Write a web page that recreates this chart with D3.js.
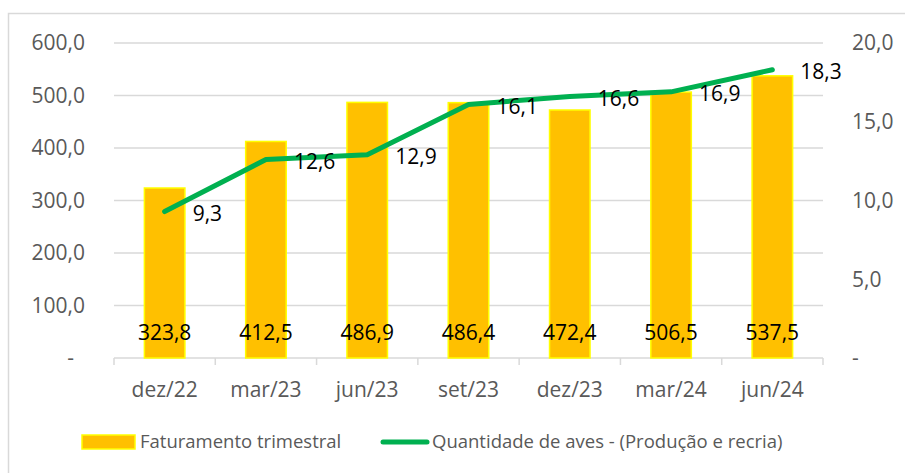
<!DOCTYPE html>
<html>
<head>
<meta charset="utf-8">
<script src="https://cdn.jsdelivr.net/npm/d3@7"></script>
<style>
  body { margin: 0; background: #fff; }
  text { font-family: "Open Sans", "Noto Sans", sans-serif; }
  .axis-label { fill: #595959; font-size: 21px; }
  .data-label { fill: #000; font-size: 21px; }
  .legend-label { fill: #595959; font-size: 18.5px; }
</style>
</head>
<body>
<svg id="chart" width="905" height="473"></svg>
<script>
var categories = ["dez/22", "mar/23", "jun/23", "set/23", "dez/23", "mar/24", "jun/24"];
var faturamento = [323.8, 412.5, 486.9, 486.4, 472.4, 506.5, 537.5];
var aves = [9.3, 12.6, 12.9, 16.1, 16.6, 16.9, 18.3];
var leftTicks = [0, 100, 200, 300, 400, 500, 600];
var rightTicks = [0, 5, 10, 15, 20];
var seriesNames = ["Faturamento trimestral", "Quantidade de aves - (Produção e recria)"];

var locale = d3.formatLocale({decimal: ",", thousands: ".", grouping: [3], currency: ["R$", ""]});
var fmt = locale.format(",.1f");
function tickFmt(v) { return v === 0 ? "-" : fmt(v); }

var svg = d3.select("#chart");

// outer chart border (runs off the picture at right/bottom)
svg.append("rect")
    .attr("x", 8.5).attr("y", 13.5)
    .attr("width", 1200).attr("height", 1200)
    .attr("fill", "none")
    .attr("stroke", "#d9d9d9")
    .attr("stroke-width", 1.5);

var plotLeft = 114, plotRight = 823, plotTop = 43, plotBottom = 358;

var x = d3.scaleBand()
    .domain(categories)
    .range([plotLeft, plotRight])
    .paddingInner(0.6)
    .paddingOuter(0.3);

var yL = d3.scaleLinear().domain([0, 600]).range([plotBottom, plotTop]);
var yR = d3.scaleLinear().domain([0, 20]).range([plotBottom, plotTop]);

// gridlines
svg.append("g").selectAll("line")
    .data(leftTicks)
    .join("line")
    .attr("x1", plotLeft).attr("x2", plotRight)
    .attr("y1", d => yL(d)).attr("y2", d => yL(d))
    .attr("stroke", "#d9d9d9")
    .attr("stroke-width", 1.5);

// category tick marks
var step = x.step();
var bounds = d3.range(categories.length + 1).map(i => plotLeft + i * step);
svg.append("g").selectAll("line")
    .data(bounds)
    .join("line")
    .attr("x1", d => d).attr("x2", d => d)
    .attr("y1", plotBottom).attr("y2", plotBottom + 7)
    .attr("stroke", "#d9d9d9")
    .attr("stroke-width", 1.5);

// left axis labels
svg.append("g").selectAll("text")
    .data(leftTicks)
    .join("text")
    .attr("class", "axis-label")
    .attr("x", d => d === 0 ? 74 : 85)
    .attr("y", d => yL(d))
    .attr("dy", "0.35em")
    .attr("text-anchor", "end")
    .text(tickFmt);

// right axis labels
svg.append("g").selectAll("text")
    .data(rightTicks)
    .join("text")
    .attr("class", "axis-label")
    .attr("x", 852)
    .attr("y", d => yR(d))
    .attr("dy", "0.35em")
    .text(tickFmt);

// category labels
svg.append("g").selectAll("text")
    .data(categories)
    .join("text")
    .attr("class", "axis-label")
    .attr("x", d => x(d) + x.bandwidth() / 2)
    .attr("y", 390)
    .attr("dy", "0.35em")
    .attr("text-anchor", "middle")
    .text(d => d);

// bars
svg.append("g").selectAll("rect")
    .data(faturamento)
    .join("rect")
    .attr("x", (d, i) => x(categories[i]))
    .attr("width", x.bandwidth())
    .attr("y", d => yL(d))
    .attr("height", d => yL(0) - yL(d))
    .attr("fill", "#ffc000")
    .attr("stroke", "#ffff00")
    .attr("stroke-width", 1.5);

// line
var line = d3.line()
    .x((d, i) => x(categories[i]) + x.bandwidth() / 2)
    .y(d => yR(d));

svg.append("path")
    .datum(aves)
    .attr("d", line)
    .attr("fill", "none")
    .attr("stroke", "#00b050")
    .attr("stroke-width", 5)
    .attr("stroke-linecap", "round")
    .attr("stroke-linejoin", "round");

// bar value labels
svg.append("g").selectAll("text")
    .data(faturamento)
    .join("text")
    .attr("class", "data-label")
    .attr("x", (d, i) => x(categories[i]) + x.bandwidth() / 2)
    .attr("y", 333)
    .attr("dy", "0.35em")
    .attr("text-anchor", "middle")
    .text(d => fmt(d));

// line value labels
svg.append("g").selectAll("text")
    .data(aves)
    .join("text")
    .attr("class", "data-label")
    .attr("x", (d, i) => x(categories[i]) + x.bandwidth() / 2 + 28)
    .attr("y", d => yR(d) + 2)
    .attr("dy", "0.35em")
    .text(d => fmt(d));

// legend
var legend = svg.append("g");
legend.append("rect")
    .attr("x", 82).attr("y", 435)
    .attr("width", 53).attr("height", 14)
    .attr("fill", "#ffc000")
    .attr("stroke", "#ffff00")
    .attr("stroke-width", 1.5);
legend.append("text")
    .attr("class", "legend-label")
    .attr("x", 140).attr("y", 442)
    .attr("dy", "0.35em")
    .text(seriesNames[0]);
legend.append("line")
    .attr("x1", 383).attr("x2", 427)
    .attr("y1", 442).attr("y2", 442)
    .attr("stroke", "#00b050")
    .attr("stroke-width", 5)
    .attr("stroke-linecap", "round");
legend.append("text")
    .attr("class", "legend-label")
    .attr("x", 432).attr("y", 442)
    .attr("dy", "0.35em")
    .text(seriesNames[1]);
</script>
</body>
</html>
